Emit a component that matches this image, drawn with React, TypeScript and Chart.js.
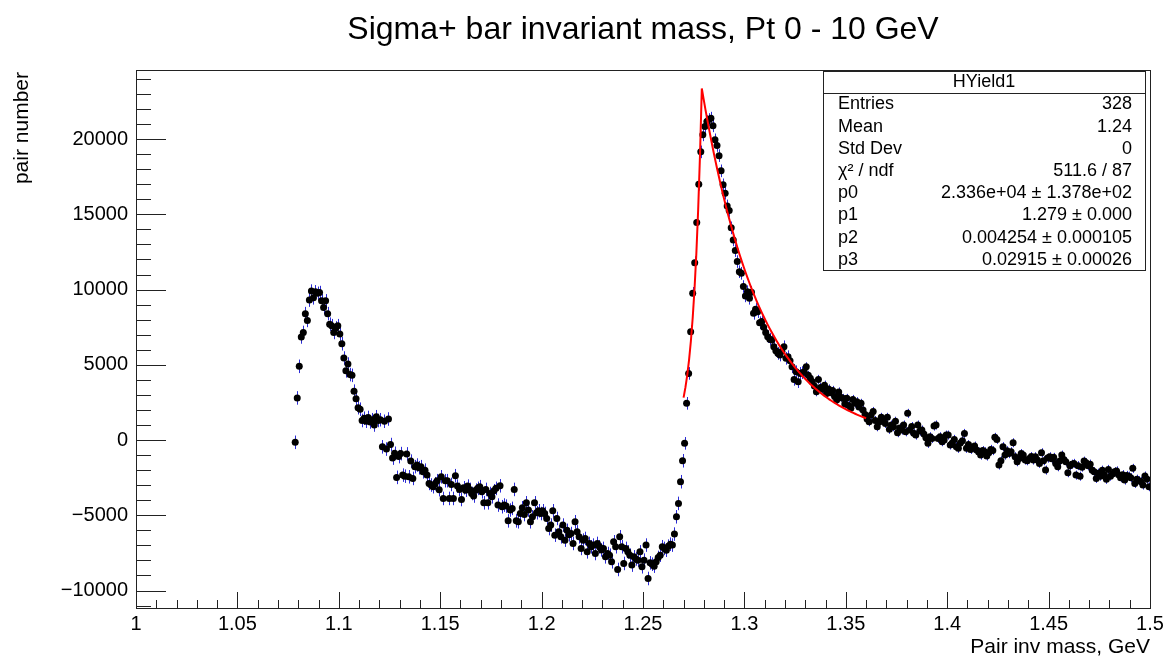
import React, { useEffect, useRef } from "react";
import { Chart, registerables } from "chart.js";

Chart.register(...registerables);

// ---------------- data ----------------
const BIN_LOW = 1.078;
const BIN_WIDTH = 0.001;

// 1.0785 .. 1.1475
const countsLowPeak = [
  -150, 2800, 4900, 6850, 7150, 8400, 7950, 9300, 9900, 9450,
  9850, 9750, 9800, 9250, 8800, 9250, 8400, 7700, 7600, 7150,
  7450, 7600, 7050, 6400, 5450, 4600, 5050, 4350, 4300, 3250,
  2750, 2150, 2050, 1300, 1450, 1250, 1500, 1200, 1350, 1000,
  1550, 1300, 1350, -450, 1250, -600, 1400, -300, -1200, -880,
  -2480, -1100, -900, -2330, -2400, -920, -2440, -1400, -2550, -1770,
  -1660, -1840, -1770, -2110, -2000, -2330, -2880, -2990, -3100, -2900,
];

// 1.1485 .. 1.2705
const countsValley = [
  -2700, -3300,
  -2440, -3880, -2700, -2700, -3880, -2950, -3880, -2370, -3060, -3280,
  -3950, -3170, -3330, -3060, -3280, -3550, -3720, -3330, -3210, -3100,
  -3440, -4170, -3280, -4170, -3550, -3770, -3370, -3210, -4320, -3040,
  -4430, -4320, -4390, -5370, -4650, -4540, -3280, -5370, -5430, -4880,
  -4500, -4950,
  -4170, -4650, -5430, -5100, -4170, -4830, -4700, -4880, -4700, -4880,
  -5210, -5880, -5650, -4700, -6320, -5210, -6100, -6430, -5650, -6650,
  -6000, -6300,
  -6210, -6870, -5430, -6100, -6430, -7200, -6650, -6540, -7430, -6870,
  -7090, -6980, -7540, -6870, -7090,
  -7300, -7200,
  -7760, -7540, -7650, -8090, -6760,
  -7090, -8600, -6430, -7090, -8200, -7200, -7430, -7650, -8310, -7760,
  -7900,
  -7980, -7430, -8420, -7980, -6980, -9200, -8160, -8250, -8380, -8090,
  -7800,
  -7650, -7090, -7200, -7320, -7050, -6920, -6980, -6250, -5100, -4210,
  -2770, -1375, -220,
];

// 1.2715 .. 1.3295
const countsSignal = [
  2440, 4430, 7200, 9750, 11790, 14450, 17000, 19150, 20280, 20830,
  21170, 21300, 21390, 20880, 19950, 19570, 18900, 17890, 16960, 16400,
  15560, 15250, 14100, 13300, 12590, 11860, 11190, 11080, 10200, 9580,
  9860, 9420, 9820, 8420, 8690, 8530, 7800, 7870, 7500, 7140,
  6870, 6700, 6650, 6200, 5940, 5760, 5650, 5900, 6200, 5430,
  5540, 5270, 4870, 4030, 4540, 3880, 4430, 4480, 4540,
];

// 1.3305 .. 1.3995
const countsTailNear = [
  4870, 4300, 4100, 3880, 3600, 3210, 4030, 3500, 3370, 3650,
  3100, 3400, 3140, 3300, 2900, 2660, 3200, 2850, 2770, 2400,
  2770, 2300, 2110, 2700, 2450, 2550, 2200, 2440, 1995, 1700,
  1400, 1220, 1660, 1900, 1300, 885, 1200, 1510, 1350, 1100,
  1510, 710, 1000, 885, 1250, 490, 800, 665, 1000, 550,
  1775, 665, 900, 450, 330, 1000, 600, 665, 400, 150,
  -220, 220, 110, 930, 1000, 110, 220, -110, 0, 330,
];

// 1.4005 .. 1.4995
const countsTailFar = [
  330, -330, -200, 45, -440, -550, -200, -45, 440, -550,
  -300, -620, -500, -400, -665, -800, -1000, -700, -775, -1065,
  -850, -620, -700, 180, 45, -1660, -1375, -440, -1000, -710,
  -900, -775, -180, -1110, -1440, -1220, -900, -1000, -1330, -1375,
  -1220, -1100, -1330, -1110, -1330, -1550, -845, -1375, -1995, -1200,
  -1110, -1250, -1150, -1550, -1775, -1400, -1000, -1300, -1450, -2170,
  -1700, -1600, -1550, -2330, -1700, -2400, -1800, -1400, -1510, -1700,
  -1600, -2000, -2100, -2550, -2200, -2400, -2000, -2300, -2610, -1950,
  -2400, -2250, -2100, -2050, -2300, -2500, -2300, -2660, -2350, -2400,
  -2500, -1880, -2880, -2600, -2700, -2750, -2990, -2390, -2600, -3100,
];

const counts = [
  ...countsLowPeak,
  ...countsValley,
  ...countsSignal,
  ...countsTailNear,
  ...countsTailFar,
];

// error bar half-size per region (upper x edge, error)
const errorEdges = [1.27, 1.33, 1.6];
const errorSizes = [450, 420, 300];

// fit: p0, p1, p2, p3 ; range
const FIT_PARAMS = [23360, 1.279, 0.004254, 0.02915];
const FIT_RANGE = [1.27, 1.36];
const FIT_NPX = 100;

const TITLE = "Sigma+ bar invariant mass, Pt 0 - 10 GeV";
const X_TITLE = "Pair inv mass, GeV";
const Y_TITLE = "pair number";

const STATS_NAME = "HYield1";
const statsLabels = ["Entries", "Mean", "Std Dev", "\u03c7\u00b2 / ndf", "p0", "p1", "p2", "p3"];
const statsValues = [
  "328",
  "1.24",
  "0",
  "511.6 / 87",
  "2.336e+04 \u00b1 1.378e+02",
  "1.279 \u00b1 0.000",
  "0.004254 \u00b1 0.000105",
  "0.02915 \u00b1 0.00026",
];

const xTickValues = [1, 1.05, 1.1, 1.15, 1.2, 1.25, 1.3, 1.35, 1.4, 1.45, 1.5];
const yTickValues = [-10000, -5000, 0, 5000, 10000, 15000, 20000];

const X_MIN = 1;
const X_MAX = 1.5;
const Y_MIN = -11160;
const Y_MAX = 24590;

// ---------------- helpers ----------------
const FONT = "'Liberation Sans', Arial, Helvetica, sans-serif";

function binCenter(i: number) {
  return BIN_LOW + (i + 0.5) * BIN_WIDTH;
}

function errorFor(x: number) {
  for (let k = 0; k < errorEdges.length; k++) if (x < errorEdges[k]) return errorSizes[k];
  return errorSizes[errorSizes.length - 1];
}

function fitValue(x: number) {
  const [p0, p1, p2, p3] = FIT_PARAMS;
  return x < p1 ? p0 * Math.exp((x - p1) / p2) : p0 * Math.exp(-(x - p1) / p3);
}

const pointData = counts.map((v, i) => ({ x: binCenter(i), y: v }));
const fitData: { x: number; y: number }[] = [];
for (let k = 0; k <= FIT_NPX; k++) {
  const x = FIT_RANGE[0] + ((FIT_RANGE[1] - FIT_RANGE[0]) * k) / FIT_NPX;
  fitData.push({ x, y: fitValue(x) });
}

const rootPlugin = {
  id: "rootStyle",
  beforeDatasetsDraw(chart: any) {
    const { ctx, chartArea } = chart;
    const xs = chart.scales.x;
    const ys = chart.scales.y;
    ctx.save();
    ctx.beginPath();
    ctx.rect(chartArea.left, chartArea.top, chartArea.right - chartArea.left, chartArea.bottom - chartArea.top);
    ctx.clip();
    ctx.strokeStyle = "#2b2bd6";
    ctx.lineWidth = 1;
    ctx.beginPath();
    pointData.forEach((p) => {
      const e = errorFor(p.x);
      const px = Math.round(xs.getPixelForValue(p.x)) + 0.5;
      ctx.moveTo(px, ys.getPixelForValue(p.y - e));
      ctx.lineTo(px, ys.getPixelForValue(p.y + e));
    });
    ctx.stroke();
    ctx.restore();
  },
  afterDraw(chart: any) {
    const { ctx, chartArea } = chart;
    const xs = chart.scales.x;
    const ys = chart.scales.y;
    const L = chartArea.left, R = chartArea.right, T = chartArea.top, B = chartArea.bottom;
    ctx.save();
    // frame
    ctx.strokeStyle = "#222";
    ctx.lineWidth = 1;
    ctx.strokeRect(Math.round(L) + 0.5, Math.round(T) + 0.5, Math.round(R - L), Math.round(B - T));
    // x ticks
    ctx.beginPath();
    for (let k = 0; k <= 50; k++) {
      const v = X_MIN + k * 0.01;
      const px = Math.round(xs.getPixelForValue(v)) + 0.5;
      const len = k % 5 === 0 ? 16 : 8;
      ctx.moveTo(px, B);
      ctx.lineTo(px, B - len);
    }
    // y ticks
    for (let v = -11000; v <= 24000; v += 1000) {
      const py = Math.round(ys.getPixelForValue(v)) + 0.5;
      const len = v % 5000 === 0 ? 30 : 15;
      ctx.moveTo(L, py);
      ctx.lineTo(L + len, py);
    }
    ctx.stroke();

    // title
    ctx.fillStyle = "#000";
    ctx.font = `32px ${FONT}`;
    ctx.textAlign = "center";
    ctx.textBaseline = "middle";
    ctx.fillText(TITLE, (L + R) / 2, 30);

    // axis titles
    ctx.font = `21px ${FONT}`;
    ctx.textAlign = "right";
    ctx.fillText(X_TITLE, R, 647);
    ctx.save();
    ctx.translate(22, 72);
    ctx.rotate(-Math.PI / 2);
    ctx.textAlign = "right";
    ctx.fillText(Y_TITLE, 0, 0);
    ctx.restore();

    // stats box
    const bx = 823, by = 71, bw = 322, bh = 199;
    ctx.fillStyle = "#fff";
    ctx.fillRect(bx, by, bw, bh);
    ctx.strokeStyle = "#222";
    ctx.strokeRect(bx + 0.5, by + 0.5, bw, bh);
    ctx.beginPath();
    ctx.moveTo(bx, by + 22.5);
    ctx.lineTo(bx + bw, by + 22.5);
    ctx.stroke();
    ctx.fillStyle = "#000";
    ctx.font = `18px ${FONT}`;
    ctx.textAlign = "center";
    ctx.fillText(STATS_NAME, bx + bw / 2, by + 11.5);
    statsLabels.forEach((lab, i) => {
      const y = by + 33.5 + i * 22.2;
      ctx.textAlign = "left";
      ctx.fillText(lab, bx + 15, y);
      ctx.textAlign = "right";
      ctx.fillText(statsValues[i], bx + bw - 13, y);
    });
    ctx.restore();
  },
};

export default function App() {
  const ref = useRef<HTMLCanvasElement>(null);
  useEffect(() => {
    const canvas = ref.current;
    if (!canvas) return;
    const chart = new Chart(canvas, {
      type: "scatter",
      data: {
        datasets: [
          {
            label: "fit",
            data: fitData,
            showLine: true,
            borderColor: "#ff0000",
            borderWidth: 2,
            pointRadius: 0,
            tension: 0,
            order: 0,
          },
          {
            label: "HYield1",
            data: pointData,
            showLine: false,
            pointRadius: 3.5,
            pointBorderWidth: 0,
            pointBackgroundColor: "#000",
            backgroundColor: "#000",
            borderColor: "#000",
            order: 1,
          },
        ],
      },
      options: {
        responsive: false,
        animation: false,
        devicePixelRatio: 1,
        events: [],
        layout: { padding: { top: 70, right: 20, left: 0, bottom: 0 } },
        plugins: {
          legend: { display: false },
          tooltip: { enabled: false },
          title: { display: false },
        },
        scales: {
          x: {
            type: "linear",
            min: X_MIN,
            max: X_MAX,
            grid: { display: false, drawTicks: false },
            border: { display: false },
            afterBuildTicks: (s: any) => {
              s.ticks = xTickValues.map((v) => ({ value: v }));
            },
            ticks: {
              autoSkip: false,
              maxRotation: 0,
              padding: 4,
              color: "#000",
              font: { family: FONT, size: 20 },
              callback: (v: any) => String(Math.round(Number(v) * 100) / 100),
            },
            afterFit: (s: any) => {
              s.height = 52;
            },
          },
          y: {
            type: "linear",
            min: Y_MIN,
            max: Y_MAX,
            grid: { display: false, drawTicks: false },
            border: { display: false },
            afterBuildTicks: (s: any) => {
              s.ticks = yTickValues.map((v) => ({ value: v }));
            },
            ticks: {
              autoSkip: false,
              padding: 8,
              color: "#000",
              font: { family: FONT, size: 20 },
              callback: (v: any) => {
                const n = Math.round(Number(v));
                return n < 0 ? "\u2212" + Math.abs(n) : String(n);
              },
            },
            afterFit: (s: any) => {
              s.width = 136;
            },
          },
        },
      },
      plugins: [rootPlugin],
    } as any);
    return () => chart.destroy();
  }, []);
  return (
    <div style={{ position: "fixed", left: 0, top: 0, width: 1170, height: 660, background: "#fff" }}>
      <canvas ref={ref} width={1170} height={660} style={{ display: "block", width: 1170, height: 660 }} />
    </div>
  );
}
